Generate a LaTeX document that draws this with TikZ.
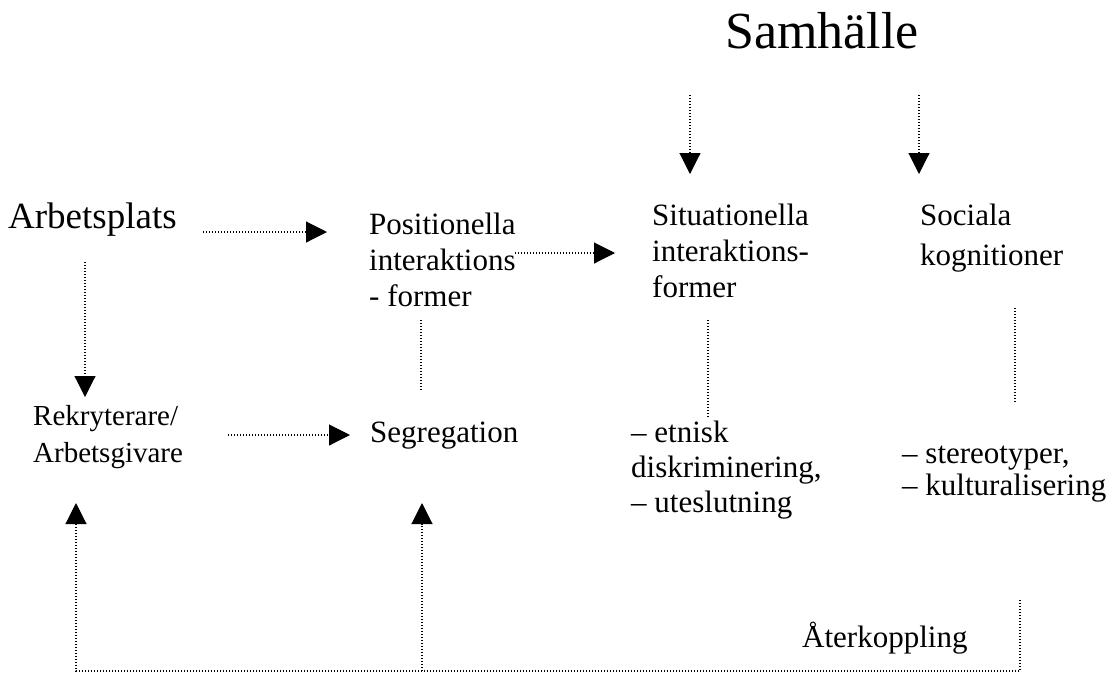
\documentclass[tikz,border=0pt]{standalone}
\usepackage{fontspec}
\setmainfont{Liberation Serif}
\usetikzlibrary{arrows.meta}
\tikzset{
  lbl/.style={inner sep=0pt, anchor=base west, align=left},
  dots/.style={line width=1.1pt, dash pattern=on 1.1pt off 1.9pt},
  arr/.style={dots, -{Triangle[length=21pt,width=21pt]}},
}
\begin{document}
\begin{tikzpicture}[x=1pt,y=-1pt]
\useasboundingbox (0,0) rectangle (1112,673);
% texts (anchor = baseline of the last line)
\node[lbl, font=\fontsize{52}{60}\selectfont] (sam) at (725,48) {Samhälle};
\node[lbl, font=\fontsize{37}{42}\selectfont] (arb) at (8,228) {Arbetsplats};
\node[lbl, font=\fontsize{31}{36}\selectfont] (pos) at (369,306) {Positionella\\interaktions\\- former};
\node[lbl, font=\fontsize{31}{36}\selectfont] (sit) at (652,297) {Situationella\\interaktions-\\former};
\node[lbl, font=\fontsize{31}{40}\selectfont] (soc) at (920,265) {Sociala\\kognitioner};
\node[lbl, font=\fontsize{29}{37}\selectfont] (rek) at (33,462) {Rekryterare/\\Arbetsgivare};
\node[lbl, font=\fontsize{31}{36}\selectfont] (seg) at (370,442) {Segregation};
\node[lbl, font=\fontsize{31}{35}\selectfont] (etn) at (631,512) {– etnisk\\diskriminering,\\– uteslutning};
\node[lbl, font=\fontsize{31}{32}\selectfont] (ste) at (902,495) {– stereotyper,\\– kulturalisering};
\node[lbl, font=\fontsize{31}{36}\selectfont] (ater) at (802,647) {Återkoppling};
% coordinates
\coordinate (s1a) at (690,95);  \coordinate (s1b) at (690,174);
\coordinate (s2a) at (919,95);  \coordinate (s2b) at (919,174);
\coordinate (apa) at (203,232); \coordinate (apb) at (327,232);
\coordinate (psa) at (515,253); \coordinate (psb) at (615,253);
\coordinate (ara) at (85,262);  \coordinate (arb2) at (85,397);
\coordinate (rsa) at (228,435); \coordinate (rsb) at (350,435);
\coordinate (pl1) at (421,320); \coordinate (pl2) at (421,390);
\coordinate (sl1) at (708,320); \coordinate (sl2) at (708,417);
\coordinate (kl1) at (1015,308); \coordinate (kl2) at (1015,403);
\coordinate (fr) at (1020,600);
\coordinate (fc) at (1020,671);
\coordinate (fl) at (76,671);
\coordinate (flt) at (76,503);
\coordinate (fm) at (422,671);
\coordinate (fmt) at (422,503);
% connectors
\draw[arr] (s1a) -- (s1b);
\draw[arr] (s2a) -- (s2b);
\draw[arr] (apa) -- (apb);
\draw[arr] (psa) -- (psb);
\draw[arr] (ara) -- (arb2);
\draw[arr] (rsa) -- (rsb);
\draw[dots] (pl1) -- (pl2);
\draw[dots] (sl1) -- (sl2);
\draw[dots] (kl1) -- (kl2);
\draw[arr] (fr) -- (fc) -- (fl) -- (flt);
\draw[arr] (fm) -- (fmt);
\end{tikzpicture}
\end{document}
